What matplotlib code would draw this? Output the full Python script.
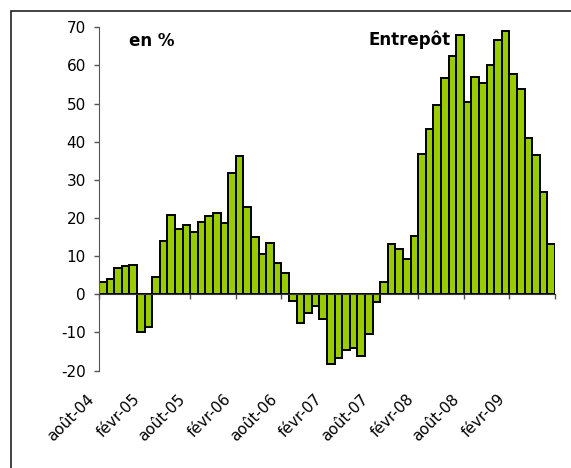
import numpy as np
import matplotlib.pyplot as plt
from matplotlib.patches import Rectangle

# Monthly change, août-04 .. juil-09 (en %)
values = [3.3, 4.1, 6.9, 7.3, 7.6, -9.8, -8.7, 4.5, 14.0, 20.7, 17.2, 18.3,
          16.3, 18.9, 20.5, 21.4, 18.8, 31.9, 36.3, 23.0, 14.9, 10.6, 13.5, 8.3,
          5.7, -1.7, -7.4, -4.8, -3.1, -6.4, -18.3, -16.8, -14.6, -14.0, -16.3, -10.4,
          -2.1, 3.1, 13.3, 11.8, 9.3, 15.3, 36.8, 43.4, 49.5, 56.6, 62.4, 68.1,
          50.5, 57.1, 55.3, 60.1, 66.8, 69.1, 57.7, 53.9, 40.9, 36.5, 26.7, 13.3]
tick_labels = ['août-04', 'févr-05', 'août-05', 'févr-06', 'août-06',
               'févr-07', 'août-07', 'févr-08', 'août-08', 'févr-09']
yticks = [-20, -10, 0, 10, 20, 30, 40, 50, 60, 70]

plt.rcParams['font.family'] = ['DejaVu Sans']
plt.rcParams['axes.unicode_minus'] = False

fig = plt.figure(figsize=(5.71, 4.68), dpi=100)
W, H = 571, 468
ax = fig.add_axes([99 / W, 1 - 370.6 / H, (555 - 99) / W, (370.6 - 27.3) / H])

x = np.arange(len(values))
ax.bar(x, values, width=1.0, color='#99CC00', edgecolor='black', linewidth=1.4, zorder=2)

ax.set_xlim(-0.5, len(values) - 0.5)
ax.set_ylim(-20, 70)
ax.set_yticks(yticks)
ax.tick_params(axis='y', direction='out', length=3.5, width=1, color='#555555',
               labelsize=11, pad=6)

# x axis sits on zero, ticks between every 6 months
for s in ['top', 'right']:
    ax.spines[s].set_visible(False)
ax.spines['bottom'].set_position(('data', 0))
ax.spines['bottom'].set_color('#333333')
ax.spines['left'].set_color('#555555')
ax.spines['bottom'].set_zorder(3)
ax.set_xticks(np.arange(-0.5, len(values), 6))
ax.set_xticklabels([])
ax.tick_params(axis='x', direction='out', length=3.6, width=1, color='#555555')

for i, lab in enumerate(tick_labels):
    ax.annotate(lab, xy=(i * 6, -20), xycoords='data', xytext=(-7.8, -18.8),
                textcoords='offset points', rotation=45, rotation_mode='anchor',
                ha='right', va='center', fontsize=11)

ax.text(0.066, 0.985, 'en %', transform=ax.transAxes, fontsize=12,
        fontweight='bold', va='top', ha='left')
ax.text(0.592, 0.992, 'Entrepôt', transform=ax.transAxes, fontsize=12,
        fontweight='bold', va='top', ha='left')

# outer frame
fig.patches.append(Rectangle((11 / W, -0.1), 1.0, 1 - 11 / H + 0.1,
                             transform=fig.transFigure, fill=False,
                             edgecolor='#222222', linewidth=1.2))

fig.savefig('out.png', dpi=100)
